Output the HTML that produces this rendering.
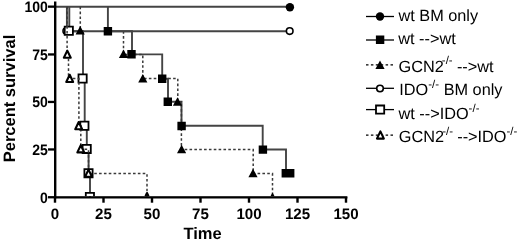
<!DOCTYPE html>
<html><head><meta charset="utf-8">
<title>Percent survival</title>
<style>
html,body{margin:0;padding:0;background:#fff;}
svg{display:block;will-change:transform;}
text{font-family:"Liberation Sans", sans-serif;fill:#000;text-rendering:geometricPrecision;}
.b{font-weight:bold;}
</style></head>
<body>
<svg width="520" height="241" viewBox="0 0 520 241">

<!-- wt BM only / wt -> wt -->
<path d="M55,6.7H290" fill="none" stroke="#444" stroke-width="1.9"/>
<path d="M107.9,6.7V31.2H132V54.4H162.2V78.7H168V101.8H181.5V125.8H262.7V149.5H286V173.4H290" fill="none" stroke="#444" stroke-width="1.9"/>
<!-- GCN2-/- -> wt -->
<path d="M80.3,6.7V31.2M123.5,31.2V54.4H142.8V78.6H177.8V101.8H181.4V149.5H253.2V173.6H272.5V197.2" fill="none" stroke="#3a3a3a" stroke-width="1.5" stroke-dasharray="2.6 2.25"/>
<!-- IDO-/- BM only -->
<path d="M66.9,6.7V31.2H289.7" fill="none" stroke="#444" stroke-width="1.9"/>
<g fill="#fff" stroke="#000" stroke-width="1.6"><circle cx="66.3" cy="31" r="3.3"/><circle cx="289.7" cy="31.1" r="3.3"/></g>
<!-- wt -> IDO-/- -->
<path d="M69.3,6.7V31.2H83V78.6H84.7V125.8H86.8V149.3H88.6V173.4H90V197.2" fill="none" stroke="#444" stroke-width="1.9"/>
<path d="M64.70,26.60h8.20v8.20h-8.20zM78.50,74.40h8.20v8.20h-8.20zM80.30,121.70h8.20v8.20h-8.20zM82.60,144.80h8.20v8.20h-8.20zM84.40,169.20h8.20v8.20h-8.20zM85.8,196.2V192.9H94V196.2" fill="#fff" stroke="#000" stroke-width="1.8"/>
<!-- GCN2-/- -> IDO-/- -->
<path d="M67.1,6.7V54.4H68.5V78.6H78.9V125.8H80.8V149.3H88.5V173.6H147V197.2" fill="none" stroke="#3a3a3a" stroke-width="1.5" stroke-dasharray="2.6 2.25"/>
<path d="M67.30,50.60L70.75,57.80H63.85z" fill="#fff" stroke="#000" stroke-width="2.1" stroke-linejoin="round"/>
<path d="M69.70,74.80L73.15,82.00H66.25z" fill="#fff" stroke="#000" stroke-width="2.1" stroke-linejoin="round"/>
<path d="M78.70,122.00L82.15,129.20H75.25z" fill="#fff" stroke="#000" stroke-width="2.1" stroke-linejoin="round"/>
<path d="M80.80,145.20L84.25,152.40H77.35z" fill="#fff" stroke="#000" stroke-width="2.1" stroke-linejoin="round"/>
<path d="M88.50,169.60L91.95,176.80H85.05z" fill="#fff" stroke="#000" stroke-width="2.1" stroke-linejoin="round"/>
<path d="M145.47,196.2L147,193L148.53,196.2" fill="#fff" stroke="#000" stroke-width="2.1" stroke-linejoin="round"/>
<!-- filled markers -->
<circle cx="289.9" cy="7.3" r="4.2" fill="#000"/>
<path d="M103.70,27.00h8.40v8.40h-8.40zM127.30,50.10h8.40v8.40h-8.40zM158.00,74.60h8.40v8.40h-8.40zM163.60,97.50h8.40v8.40h-8.40zM177.40,121.80h8.40v8.40h-8.40zM258.70,145.40h8.40v8.40h-8.40zM281.60,169.10h8.40v8.40h-8.40zM286.00,169.10h8.40v8.40h-8.40zM80.20,26.00L84.80,34.50H75.60zM123.50,49.60L128.10,58.10H118.90zM142.80,73.90L147.40,82.40H138.20zM177.50,97.20L182.10,105.70H172.90zM181.60,144.80L186.20,153.30H177.00zM253.00,168.80L257.60,177.30H248.40zM270.44,196.2L272.5,192.4L274.56,196.2z" fill="#000"/>
<!-- axes -->
<g fill="#000">
<rect x="54" y="1.5" width="2.4" height="196.8"/>
<rect x="54" y="196.2" width="293.4" height="2.3"/>
<rect x="48" y="5.5" width="7" height="2.3"/>
<rect x="48" y="53.3" width="7" height="2.3"/>
<rect x="48" y="100.8" width="7" height="2.3"/>
<rect x="48" y="148.3" width="7" height="2.3"/>
<rect x="48" y="196.1" width="7" height="2.3"/>
<rect x="53.8" y="197" width="2.4" height="5.7"/>
<rect x="102.3" y="197" width="2.4" height="5.7"/>
<rect x="150.8" y="197" width="2.4" height="5.7"/>
<rect x="199.3" y="197" width="2.4" height="5.7"/>
<rect x="247.8" y="197" width="2.4" height="5.7"/>
<rect x="296.3" y="197" width="2.4" height="5.7"/>
<rect x="344.8" y="197" width="2.4" height="5.7"/>
</g>
<g class="b" font-size="15.1" text-anchor="end">
<text transform="translate(47.9,12.0) scale(0.93,1)">100</text>
<text transform="translate(47.9,59.8) scale(0.93,1)">75</text>
<text transform="translate(47.9,107.3) scale(0.93,1)">50</text>
<text transform="translate(47.9,154.9) scale(0.93,1)">25</text>
<text transform="translate(47.9,202.6) scale(0.93,1)">0</text>
</g>
<g class="b" font-size="15.1" text-anchor="middle">
<text x="55" y="218.7">0</text>
<text x="103.5" y="218.7">25</text>
<text x="152" y="218.7">50</text>
<text x="200.5" y="218.7">75</text>
<text x="249" y="218.7">100</text>
<text x="297.5" y="218.7">125</text>
<text x="346" y="218.7">150</text>
</g>
<text class="b" font-size="16.5" text-anchor="middle" x="202.6" y="239.1">Time</text>
<text class="b" font-size="16.5" text-anchor="middle" transform="translate(15.2,98.5) rotate(-90)">Percent survival</text>
<!-- legend -->
<g stroke="#000" stroke-width="1.3" fill="none">
<path d="M366,16.5H394"/><path d="M366,40H394"/>
<path d="M366,64.9H394" stroke-dasharray="2.5 2.4"/>
<path d="M366,88.3H394"/><path d="M366,109.6H394"/>
<path d="M366,135.2H394" stroke-dasharray="2.5 2.4"/>
</g>
<circle cx="380" cy="16.5" r="4.2" fill="#000"/>
<path d="M375.90,35.50h8.40v8.40h-8.40zM380.00,60.40L384.60,68.90H375.40z" fill="#000"/>
<circle cx="380" cy="88.5" r="3.3" fill="#fff" stroke="#000" stroke-width="1.6"/>
<path d="M376.00,105.50h8.20v8.20h-8.20z" fill="#fff" stroke="#000" stroke-width="1.8"/>
<path d="M380.40,131.40L383.85,138.60H376.95z" fill="#fff" stroke="#000" stroke-width="2.1" stroke-linejoin="round"/>
<g font-size="16.3">
  <text x="398.5" y="21.2">wt BM only</text>
  <text x="398.3" y="44.3">wt --&gt;wt</text>
  <text x="398.5" y="71.7">GCN2<tspan font-size="11.5" dx="-1.9" dy="-7.4">-/-</tspan><tspan dx="-0.3" dy="7.4"> --&gt;wt</tspan></text>
  <text x="399.3" y="95.2">IDO<tspan font-size="11.5" dy="-7">-/-</tspan><tspan dy="7"> BM only</tspan></text>
  <text x="398.5" y="119.3">wt --&gt;IDO<tspan font-size="11.5" dy="-7">-/-</tspan></text>
  <text x="398.8" y="142">GCN2<tspan font-size="11.5" dx="-1.9" dy="-7.4">-/-</tspan><tspan dx="-0.3" dy="7.4"> --&gt;IDO</tspan><tspan font-size="11.5" dy="-7">-/-</tspan></text>
</g>
</svg>
</body></html>
